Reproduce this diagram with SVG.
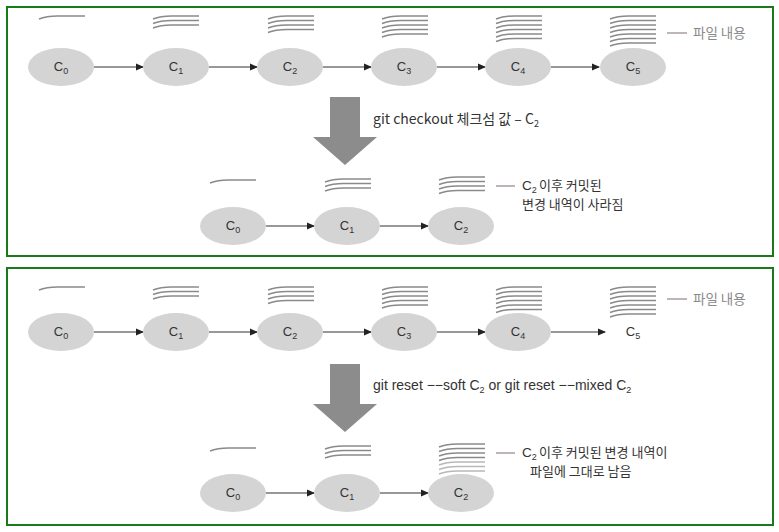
<svg xmlns="http://www.w3.org/2000/svg" xmlns:xlink="http://www.w3.org/1999/xlink" width="779" height="532" viewBox="0 0 779 532">
<style>
.panel{fill:#fff;stroke:#1a7a1a;stroke-width:2}
.node{fill:#d4d4d4;stroke:none}
.lbl{font-family:"Liberation Sans","Noto Sans CJK KR",sans-serif;font-size:13px;fill:#333;text-anchor:middle}
.sub{font-size:9px}
.txt{font-family:"Liberation Sans","Noto Sans CJK KR",sans-serif;font-size:14px;fill:#333}
.ctxt{font-family:"Liberation Sans","Noto Sans CJK KR",sans-serif;font-size:13.5px;fill:#333}
.ktxt{font-family:"Noto Sans CJK KR","Liberation Sans",sans-serif;font-size:13px;fill:#333}
.gtxt{font-family:"Noto Sans CJK KR","Liberation Sans",sans-serif;font-size:13.5px;fill:#8a8a8a}
.conn{stroke:#333;stroke-width:1.2;fill:none;marker-end:url(#ah)}
.big{fill:#8c8c8c}
.fl{stroke:#8a8a8a;stroke-width:1.4;fill:none}
.fl2{stroke:#b8b8b8;stroke-width:1.4;fill:none}
.leg{stroke:#a89c9c;stroke-width:1.5}
</style>
<defs>
<marker id="ah" markerWidth="8" markerHeight="8" refX="7" refY="4" orient="auto" markerUnits="userSpaceOnUse">
<path d="M0,0.5 L8,4 L0,7.5 Z" fill="#222"/>
</marker>
<path id="ln" d="M0,3 C6,0.5 14,-0.3 22,0 L46,0"/>
</defs>
<rect class="panel" x="7" y="7" width="766" height="249"/>
<rect class="panel" x="7" y="268" width="766" height="257"/>
<g id="content-lines-1" class="fl">
<use href="#ln" x="39" y="16"/>
<use href="#ln" x="153" y="16"/><use href="#ln" x="153" y="20.5"/><use href="#ln" x="153" y="25"/>
<use href="#ln" x="268" y="16"/><use href="#ln" x="268" y="20.5"/><use href="#ln" x="268" y="25"/><use href="#ln" x="268" y="29.5"/>
<use href="#ln" x="382" y="16"/><use href="#ln" x="382" y="20.5"/><use href="#ln" x="382" y="25"/><use href="#ln" x="382" y="29.5"/><use href="#ln" x="382" y="34"/>
<use href="#ln" x="496" y="16"/><use href="#ln" x="496" y="20.5"/><use href="#ln" x="496" y="25"/><use href="#ln" x="496" y="29.5"/><use href="#ln" x="496" y="34"/><use href="#ln" x="496" y="38.5"/>
<use href="#ln" x="610" y="16"/><use href="#ln" x="610" y="20.5"/><use href="#ln" x="610" y="25"/><use href="#ln" x="610" y="29.5"/><use href="#ln" x="610" y="34"/><use href="#ln" x="610" y="38.5"/><use href="#ln" x="610" y="43"/>
<use href="#ln" x="210" y="180"/>
<use href="#ln" x="325" y="179"/><use href="#ln" x="325" y="183.5"/><use href="#ln" x="325" y="188"/>
<use href="#ln" x="439" y="177"/><use href="#ln" x="439" y="181.5"/><use href="#ln" x="439" y="186"/><use href="#ln" x="439" y="190.5"/>
</g>
<g id="legend-1">
<line class="leg" x1="667" y1="33" x2="687" y2="33"/>
<text class="gtxt" x="693" y="38">파일 내용</text>
<line class="leg" x1="496" y1="186" x2="515" y2="186"/>
<text class="ctxt" x="522" y="190">C<tspan class="sub" dy="2.5">2</tspan></text>
<text class="ktxt" x="539" y="190">이후 커밋된</text>
<text class="ktxt" x="522" y="209">변경 내역이 사라짐</text>
</g>
<g id="connectors">
<line class="conn" x1="94" y1="67" x2="143" y2="67"/>
<line class="conn" x1="209" y1="67" x2="257" y2="67"/>
<line class="conn" x1="323" y1="67" x2="371" y2="67"/>
<line class="conn" x1="437" y1="67" x2="485" y2="67"/>
<line class="conn" x1="551" y1="67" x2="599" y2="67"/>
<line class="conn" x1="266" y1="226" x2="314" y2="226"/>
<line class="conn" x1="380" y1="226" x2="428" y2="226"/>
<line class="conn" x1="94" y1="332" x2="143" y2="332"/>
<line class="conn" x1="209" y1="332" x2="257" y2="332"/>
<line class="conn" x1="323" y1="332" x2="371" y2="332"/>
<line class="conn" x1="437" y1="332" x2="485" y2="332"/>
<line class="conn" x1="551" y1="332" x2="605" y2="332"/>
<line class="conn" x1="266" y1="493" x2="314" y2="493"/>
<line class="conn" x1="380" y1="493" x2="428" y2="493"/>
</g>
<g id="p1-c0"><ellipse class="node" cx="61" cy="67" rx="33" ry="19"/><text class="lbl" x="61" y="71">C<tspan class="sub" dy="2.5">0</tspan></text></g>
<g id="p1-c1"><ellipse class="node" cx="176" cy="67" rx="33" ry="19"/><text class="lbl" x="176" y="71">C<tspan class="sub" dy="2.5">1</tspan></text></g>
<g id="p1-c2"><ellipse class="node" cx="290" cy="67" rx="33" ry="19"/><text class="lbl" x="290" y="71">C<tspan class="sub" dy="2.5">2</tspan></text></g>
<g id="p1-c3"><ellipse class="node" cx="404" cy="67" rx="33" ry="19"/><text class="lbl" x="404" y="71">C<tspan class="sub" dy="2.5">3</tspan></text></g>
<g id="p1-c4"><ellipse class="node" cx="518" cy="67" rx="33" ry="19"/><text class="lbl" x="518" y="71">C<tspan class="sub" dy="2.5">4</tspan></text></g>
<g id="p1-c5"><ellipse class="node" cx="633" cy="67" rx="33" ry="19"/><text class="lbl" x="633" y="71">C<tspan class="sub" dy="2.5">5</tspan></text></g>
<g id="p1-arrow"><path class="big" d="M330,97 H360 V137 H377 L345,165 L313,137 H330 Z"/><text class="ktxt" x="373" y="124" style="font-size:14px">git checkout 체크섬 값 – C<tspan class="sub" dy="2.5">2</tspan></text></g>
<g id="p1-r-c0"><ellipse class="node" cx="233" cy="226" rx="33" ry="19"/><text class="lbl" x="233" y="230">C<tspan class="sub" dy="2.5">0</tspan></text></g>
<g id="p1-r-c1"><ellipse class="node" cx="347" cy="226" rx="33" ry="19"/><text class="lbl" x="347" y="230">C<tspan class="sub" dy="2.5">1</tspan></text></g>
<g id="p1-r-c2"><ellipse class="node" cx="461" cy="226" rx="33" ry="19"/><text class="lbl" x="461" y="230">C<tspan class="sub" dy="2.5">2</tspan></text></g>
<g id="content-lines-2" class="fl">
<use href="#ln" x="39" y="287"/>
<use href="#ln" x="153" y="287"/><use href="#ln" x="153" y="291.5"/><use href="#ln" x="153" y="296"/>
<use href="#ln" x="268" y="287"/><use href="#ln" x="268" y="291.5"/><use href="#ln" x="268" y="296"/><use href="#ln" x="268" y="300.5"/>
<use href="#ln" x="382" y="287"/><use href="#ln" x="382" y="291.5"/><use href="#ln" x="382" y="296"/><use href="#ln" x="382" y="300.5"/><use href="#ln" x="382" y="305"/>
<use href="#ln" x="496" y="287"/><use href="#ln" x="496" y="291.5"/><use href="#ln" x="496" y="296"/><use href="#ln" x="496" y="300.5"/><use href="#ln" x="496" y="305"/><use href="#ln" x="496" y="309.5"/>
<use href="#ln" x="610" y="287"/><use href="#ln" x="610" y="291.5"/><use href="#ln" x="610" y="296"/><use href="#ln" x="610" y="300.5"/><use href="#ln" x="610" y="305"/><use href="#ln" x="610" y="309.5"/><use href="#ln" x="610" y="314"/>
<use href="#ln" x="210" y="448"/>
<use href="#ln" x="325" y="446"/><use href="#ln" x="325" y="450.5"/><use href="#ln" x="325" y="455"/>
<use href="#ln" x="439" y="444"/><use href="#ln" x="439" y="448.5"/><use href="#ln" x="439" y="453"/><use href="#ln" x="439" y="457.5"/>
<use class="fl2" href="#ln" x="439" y="462"/><use class="fl2" href="#ln" x="439" y="466.5"/><use class="fl2" href="#ln" x="439" y="471"/>
</g>
<g id="legend-2">
<line class="leg" x1="667" y1="299" x2="687" y2="299"/>
<text class="gtxt" x="693" y="304">파일 내용</text>
<line class="leg" x1="496" y1="453" x2="515" y2="453"/>
<text class="ctxt" x="522" y="457">C<tspan class="sub" dy="2.5">2</tspan></text>
<text class="ktxt" x="539" y="457">이후 커밋된 변경 내역이</text>
<text class="ktxt" x="530" y="476">파일에 그대로 남음</text>
</g>
<g id="p2-c0"><ellipse class="node" cx="61" cy="332" rx="33" ry="19"/><text class="lbl" x="61" y="336">C<tspan class="sub" dy="2.5">0</tspan></text></g>
<g id="p2-c1"><ellipse class="node" cx="176" cy="332" rx="33" ry="19"/><text class="lbl" x="176" y="336">C<tspan class="sub" dy="2.5">1</tspan></text></g>
<g id="p2-c2"><ellipse class="node" cx="290" cy="332" rx="33" ry="19"/><text class="lbl" x="290" y="336">C<tspan class="sub" dy="2.5">2</tspan></text></g>
<g id="p2-c3"><ellipse class="node" cx="404" cy="332" rx="33" ry="19"/><text class="lbl" x="404" y="336">C<tspan class="sub" dy="2.5">3</tspan></text></g>
<g id="p2-c4"><ellipse class="node" cx="518" cy="332" rx="33" ry="19"/><text class="lbl" x="518" y="336">C<tspan class="sub" dy="2.5">4</tspan></text></g>
<g id="p2-c5"><text class="lbl" x="633" y="336">C<tspan class="sub" dy="2.5">5</tspan></text></g>
<g id="p2-arrow"><path class="big" d="M330,364 H360 V404 H377 L345,432 L313,404 H330 Z"/><text class="txt" x="373" y="390">git reset −−soft C<tspan class="sub" dy="2.5">2</tspan><tspan dy="-2.5"> or git reset −−mixed C</tspan><tspan class="sub" dy="2.5">2</tspan></text></g>
<g id="p2-r-c0"><ellipse class="node" cx="233" cy="493" rx="33" ry="19"/><text class="lbl" x="233" y="497">C<tspan class="sub" dy="2.5">0</tspan></text></g>
<g id="p2-r-c1"><ellipse class="node" cx="347" cy="493" rx="33" ry="19"/><text class="lbl" x="347" y="497">C<tspan class="sub" dy="2.5">1</tspan></text></g>
<g id="p2-r-c2"><ellipse class="node" cx="461" cy="493" rx="33" ry="19"/><text class="lbl" x="461" y="497">C<tspan class="sub" dy="2.5">2</tspan></text></g>
</svg>
